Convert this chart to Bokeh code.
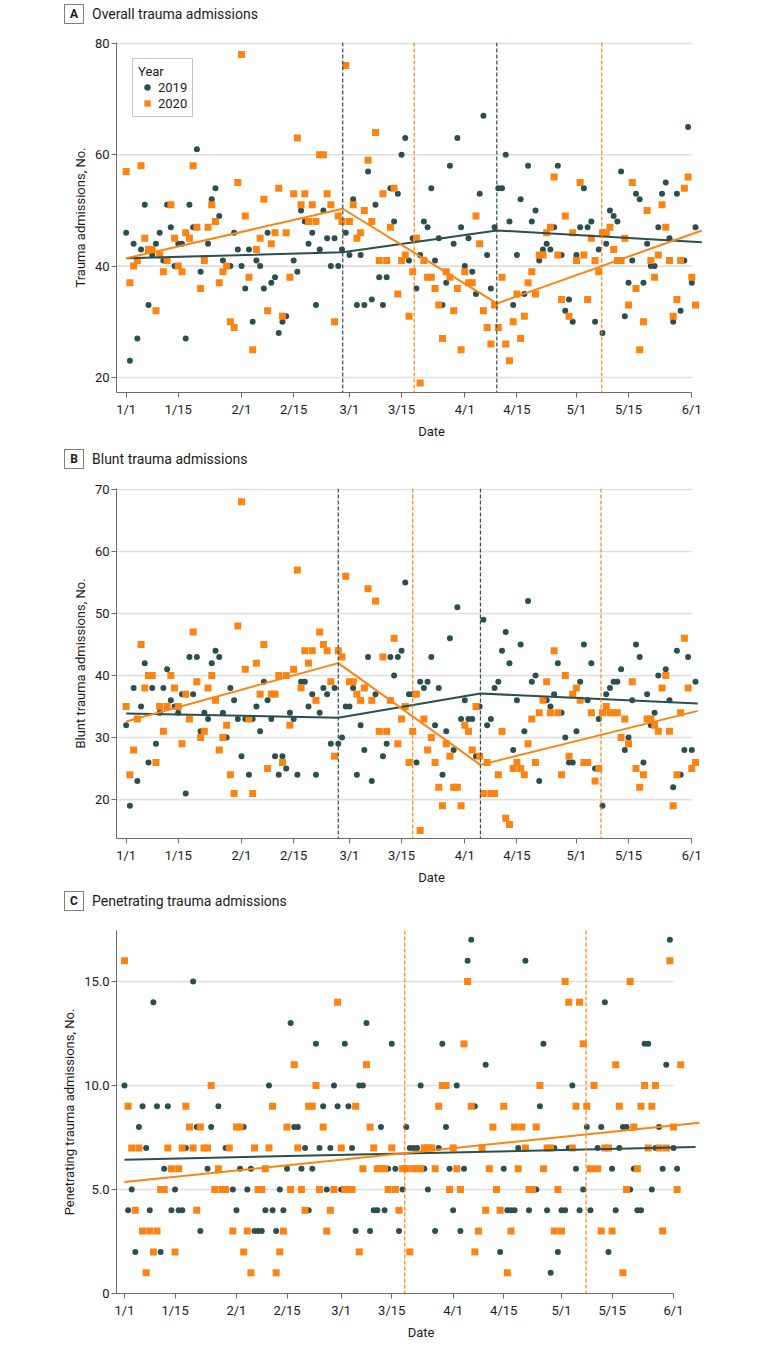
from bokeh.plotting import figure
from bokeh.models import Range1d, FixedTicker, Span, Legend, LegendItem, Div
from bokeh.layouts import column
from bokeh.embed import file_html
from bokeh.resources import INLINE

GREEN = "#2b4e4e"
ORANGE = "#fd8412"
FONT = "Roboto"
TXT = "#1a1a1a"

tick_days = [0, 14, 31, 45, 60, 74, 91, 105, 121, 135, 152]
tick_labels = ["1/1", "1/15", "2/1", "2/15", "3/1", "3/15", "4/1", "4/15", "5/1", "5/15", "6/1"]

# ---------------- Panel A: overall ----------------
overall_2019 = [46,23,44,27,43,51,33,42,44,46,
                41,51,47,40,44,44,27,51,47,61,
                39,41,44,52,54,49,41,40,40,46,
                43,40,36,43,30,41,40,36,46,37,
                38,28,30,31,38,41,39,50,48,44,
                46,33,43,50,45,40,45,40,43,46,
                42,52,33,42,33,57,34,51,38,33,
                38,54,48,53,60,63,41,45,36,42,
                48,47,54,41,45,33,37,58,44,63,
                47,40,45,39,35,53,67,42,36,47,
                54,54,60,48,33,42,52,35,58,48,
                50,41,43,44,43,47,58,42,32,34,
                30,42,47,54,47,48,30,43,28,44,
                50,49,48,57,31,37,41,53,52,37,
                44,40,40,47,53,55,45,30,53,32,
                41,65,37,47]
overall_2020 = [57,37,40,41,58,45,43,43,32,42,
                39,41,51,45,40,39,46,45,58,47,
                36,41,47,51,48,37,39,40,30,29,
                55,78,49,38,25,43,45,52,32,44,
                46,54,31,46,38,53,63,51,53,48,
                51,48,60,60,53,51,30,49,48,76,
                48,51,45,46,50,59,48,64,41,53,
                41,47,54,35,41,42,31,39,45,19,
                41,38,38,36,33,27,39,38,32,36,
                25,39,37,37,49,44,32,29,26,33,
                29,38,26,23,30,35,27,31,37,39,
                35,42,42,46,47,56,42,34,49,31,
                46,41,55,42,34,45,41,39,46,46,
                47,43,41,41,45,33,55,36,25,30,
                50,41,38,42,51,47,41,31,34,41,
                54,56,38,33]
overall_trend_days = [0, 58.2, 99.6, 154.7]
overall_trend_2019 = [41.4, 42.5, 46.4, 44.3]
overall_trend_2020 = [41.4, 50.3, 33.3, 46.4]
overall_breaks_2019 = [58.2, 99.6]
overall_breaks_2020 = [77.4, 127.8]

# ---------------- Panel B: blunt ----------------
blunt_2019 = [32,19,38,23,35,42,26,38,29,34,
              38,41,36,35,34,37,21,43,37,43,
              31,34,33,42,44,43,34,30,38,36,
              33,27,33,24,33,35,31,39,36,33,
              27,24,27,25,34,33,24,39,39,35,
              37,24,34,38,37,29,38,29,30,35,
              35,38,24,32,28,43,23,37,31,27,
              29,43,40,43,44,55,37,37,26,39,
              38,39,43,32,38,24,31,46,28,51,
              33,36,33,33,27,35,49,32,33,38,
              39,44,47,42,28,36,45,31,52,39,
              40,23,36,36,35,37,42,34,30,26,
              26,31,39,45,36,42,25,33,19,37,
              38,39,39,41,28,30,36,45,43,26,
              37,32,34,40,38,41,36,22,44,24,
              28,43,28,39]
blunt_2020 = [35,24,28,33,45,38,40,40,26,35,
              31,35,40,38,35,29,37,33,47,39,
              30,31,38,40,36,28,30,32,24,21,
              48,68,41,33,21,42,37,45,25,37,
              37,40,26,40,32,41,57,38,44,42,
              44,36,47,45,44,39,27,44,43,56,
              39,39,37,36,38,54,36,52,31,43,
              31,36,46,29,33,35,26,31,37,15,
              33,28,30,26,22,19,29,27,22,22,
              19,32,31,28,35,27,21,26,21,21,
              24,31,17,16,25,26,25,24,29,33,
              26,34,36,39,34,44,34,24,40,27,
              37,38,36,26,26,34,23,25,34,35,
              34,34,34,30,33,29,39,25,22,24,
              33,33,32,31,38,40,31,19,24,34,
              46,38,25,26]
blunt_trend_days = [0, 57.0, 95.2, 153.6]
blunt_trend_2019 = [33.9, 33.2, 37.1, 35.5]
blunt_trend_2020 = [32.6, 42.0, 25.6, 34.3]
blunt_breaks_2019 = [57.0, 95.2]
blunt_breaks_2020 = [77.0, 127.6]

# ---------------- Panel C: penetrating ----------------
pen_2019 = [10,4,5,2,8,9,7,4,14,9,
            2,6,9,4,5,4,4,7,8,15,
            8,3,7,6,8,5,9,5,7,7,
            5,4,6,8,5,6,3,3,3,4,
            10,4,3,5,4,6,13,8,8,6,
            7,4,6,12,7,9,5,7,10,9,
            5,12,9,7,3,10,10,13,3,4,
            4,8,4,6,12,6,3,5,8,7,
            7,7,10,6,5,7,3,7,12,8,
            6,4,10,3,6,16,17,9,3,7,
            11,6,8,5,2,6,4,4,4,7,
            8,16,4,5,5,9,12,4,1,7,
            2,4,4,7,10,6,4,5,8,4,
            6,7,8,14,2,6,4,7,8,8,
            5,6,4,4,12,12,5,7,8,6,
            11,17,7,6]
pen_2020 = [16,9,7,4,7,3,1,3,2,3,
            5,5,7,6,2,6,7,9,8,7,
            4,8,7,7,10,5,6,5,5,7,
            3,8,8,2,3,1,7,5,5,6,
            7,9,1,2,3,8,5,11,7,5,
            4,9,9,10,5,8,3,4,5,14,
            7,5,5,5,9,2,6,11,8,7,
            6,6,6,5,7,5,4,6,6,2,
            6,6,6,7,7,7,6,9,10,10,
            5,7,6,5,12,15,9,2,3,7,
            4,6,8,5,4,9,1,3,8,6,
            8,7,5,5,8,10,6,7,7,3,
            5,3,15,14,7,9,14,12,9,6,
            10,6,3,7,7,3,11,9,1,5,
            15,8,6,9,10,7,9,10,7,3,
            7,16,8,5,11]
pen_trend_days_2019 = [0, 158.1]
pen_trend_2019 = [6.43, 7.04]
pen_trend_days_2020 = [0, 159.2]
pen_trend_2020 = [5.36, 8.21]
pen_breaks_2019 = []
pen_breaks_2020 = [77.6, 127.8]


def header(letter, title, h, box_top):
    html = (
        f'<div style="position:relative;width:760px;height:{h}px;font-family:Roboto,sans-serif;color:{TXT};">'
        f'<div style="position:absolute;left:64px;top:{box_top}px;width:20px;height:20px;'
        f'box-sizing:border-box;border:1px solid #808080;background:#fff;font-size:12px;'
        f'font-weight:bold;text-align:center;line-height:18px;">{letter}</div>'
        f'<div style="position:absolute;left:92px;top:{box_top}px;height:20px;white-space:nowrap;'
        f'font-size:14px;line-height:20px;">{title}</div>'
        f'</div>'
    )
    return Div(text=html, width=760, height=h, margin=0)


def panel(ylabel, xr, yr, fw, fh, ml, mr, mt, mb, yticks, ylabels,
          v19, v20, td19, tv19, td20, tv20, br19, br20, legend=False):
    p = figure(frame_width=fw, frame_height=fh, min_border_left=ml, min_border_right=mr,
               min_border_top=mt, min_border_bottom=mb,
               x_range=Range1d(*xr), y_range=Range1d(*yr),
               toolbar_location=None, output_backend="svg", title=None)
    p.outline_line_color = None
    p.xgrid.visible = False
    p.ygrid.visible = False

    grid_vals = [t for t in yticks if t > yr[0]]
    p.segment(x0=[xr[0]] * len(grid_vals), y0=grid_vals,
              x1=[tick_days[-1]] * len(grid_vals), y1=grid_vals,
              line_color="#dfdfdf", line_width=1.6)
    for d in br19:
        p.add_layout(Span(location=d, dimension="height", line_color=GREEN,
                          line_dash="4 2", line_width=1.2))
    for d in br20:
        p.add_layout(Span(location=d, dimension="height", line_color=ORANGE,
                          line_dash="4 2", line_width=1.2))
    r19 = p.scatter(list(range(len(v19))), v19, marker="circle", size=6,
                    fill_color=GREEN, line_color=None)
    r20 = p.scatter(list(range(len(v20))), v20, marker="square", size=7,
                    fill_color=ORANGE, line_color=None)
    p.line(td19, tv19, line_color=GREEN, line_width=2)
    p.line(td20, tv20, line_color=ORANGE, line_width=2)

    for ax in (p.xaxis[0], p.yaxis[0]):
        ax.axis_line_color = "#6b6b6b"
        ax.major_tick_line_color = "#6b6b6b"
        ax.minor_tick_line_color = None
        ax.major_tick_out = 5
        ax.major_tick_in = 0
        ax.major_label_text_font = FONT
        ax.major_label_text_font_size = "13px"
        ax.major_label_text_color = TXT
        ax.axis_label_text_font = FONT
        ax.axis_label_text_font_size = "13px"
        ax.axis_label_text_font_style = "normal"
        ax.axis_label_text_color = TXT
        ax.axis_label_standoff = 4
    p.xaxis.major_label_standoff = 4
    p.yaxis.major_label_standoff = 2
    p.xaxis.ticker = FixedTicker(ticks=tick_days)
    p.xaxis.major_label_overrides = dict(zip(tick_days, tick_labels))
    p.xaxis.bounds = (xr[0], tick_days[-1])
    p.xaxis.axis_label = "Date"
    p.yaxis.ticker = FixedTicker(ticks=yticks)
    p.yaxis.major_label_overrides = dict(zip(yticks, ylabels))
    p.yaxis.axis_label = ylabel

    if legend:
        lg = Legend(items=[LegendItem(label="2019", renderers=[r19]),
                           LegendItem(label="2020", renderers=[r20])],
                    title="Year", location="top_left")
        lg.margin = 16
        lg.padding = 5
        lg.spacing = 0
        lg.glyph_width = 18
        lg.glyph_height = 16
        lg.label_height = 16
        lg.label_standoff = 2
        lg.title_standoff = 0
        lg.title_text_font = FONT
        lg.title_text_font_size = "13px"
        lg.title_text_font_style = "normal"
        lg.title_text_color = TXT
        lg.label_text_font = FONT
        lg.label_text_font_size = "13px"
        lg.label_text_color = TXT
        lg.border_line_color = "#8c8c8c"
        lg.border_line_width = 1
        lg.background_fill_color = "white"
        lg.background_fill_alpha = 1
        p.add_layout(lg)
    return p


hA = header("A", "Overall trauma admissions", 36, 4)
pA = panel("Trauma admissions, No.",
           (-2.6, 166.7), (17.31, 80.15), 630, 350, 105, 25, 6, 47,
           [20, 40, 60, 80], ["20", "40", "60", "80"],
           overall_2019, overall_2020, overall_trend_days, overall_trend_2019,
           overall_trend_days, overall_trend_2020, overall_breaks_2019, overall_breaks_2020,
           legend=True)
hB = header("B", "Blunt trauma admissions", 42, 8)
pB = panel("Blunt trauma admissions, No.",
           (-2.6, 166.7), (13.73, 70.15), 630, 350, 105, 25, 5, 46,
           [20, 30, 40, 50, 60, 70], ["20", "30", "40", "50", "60", "70"],
           blunt_2019, blunt_2020, blunt_trend_days, blunt_trend_2019,
           blunt_trend_days, blunt_trend_2020, blunt_breaks_2019, blunt_breaks_2020)
hC = header("C", "Penetrating trauma admissions", 38, 4)
pC = panel("Penetrating trauma admissions, No.",
           (-2.21, 166.4), (0, 17.45), 609, 363, 116, 35, 5, 45,
           [0, 5, 10, 15], ["0", "5.0", "10.0", "15.0"],
           pen_2019, pen_2020, pen_trend_days_2019, pen_trend_2019,
           pen_trend_days_2020, pen_trend_2020, pen_breaks_2019, pen_breaks_2020)

layout = column(hA, pA, hB, pB, hC, pC, spacing=0)
open("out.html", "w").write(file_html(layout, INLINE))
